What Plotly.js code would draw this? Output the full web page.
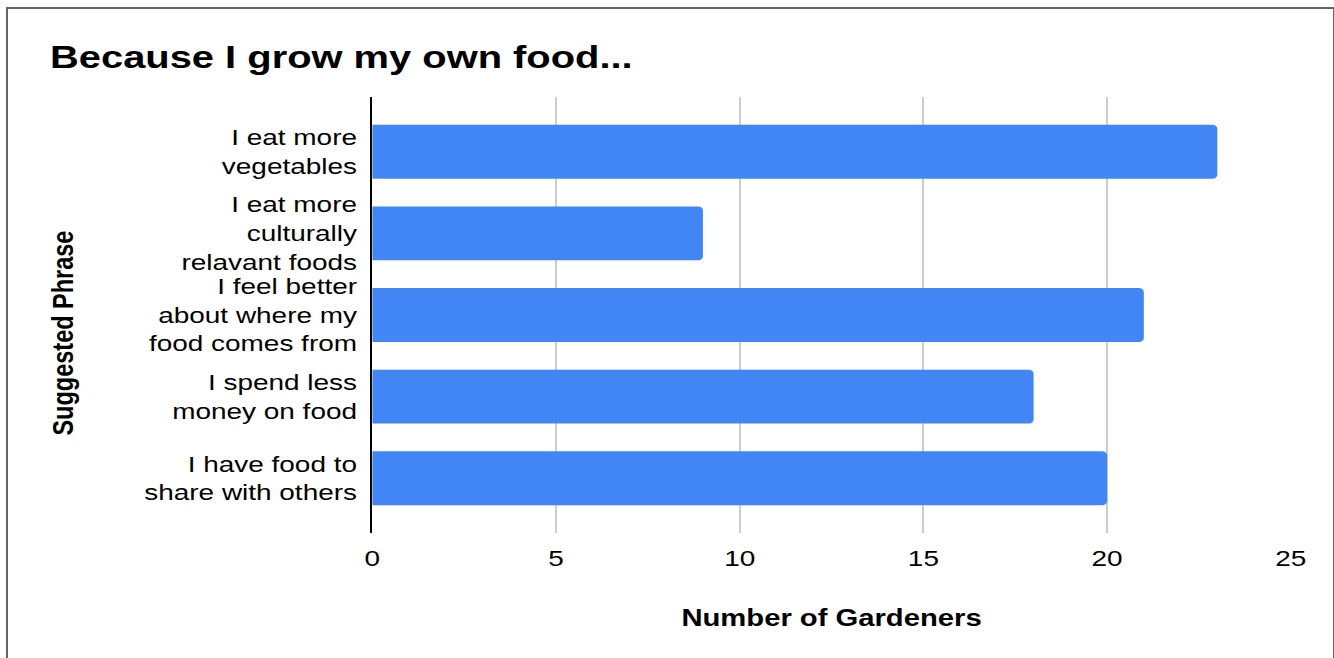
<!DOCTYPE html>
<html>
<head>
<meta charset="utf-8">
<script src="https://cdn.plot.ly/plotly-3.0.1.min.js"></script>
<style>
  html, body { margin: 0; padding: 0; background: #fff; overflow: hidden; }
  /* the reference is a horizontally stretched chart image: reproduce the stretch */
  #chart { width: 1050px; height: 658px; transform: scaleX(1.27048); transform-origin: 0 0; }
  #frame { position: absolute; left: 6px; top: 7px; width: 1325px; height: 660px;
           border: 2px solid #666; border-bottom: none; pointer-events: none; }
</style>
</head>
<body>
<div id="chart"></div>
<div id="frame"></div>
<script>
const categories = [
  "I eat more<br>vegetables",
  "I eat more<br>culturally<br>relavant foods",
  "I feel better<br>about where my<br>food comes from",
  "I spend less<br>money on food",
  "I have food to<br>share with others"
];
const gardeners = [23, 9, 21, 18, 20];
const xTicks = [0, 5, 10, 15, 20, 25];

const FONT = 'Liberation Sans, Arial, sans-serif';

const trace = {
  type: 'bar',
  orientation: 'h',
  x: gardeners,
  y: categories,
  marker: { color: '#4285F4', cornerradius: 4 },
  hoverinfo: 'x+y'
};

const layout = {
  width: 1050,
  height: 658,
  margin: { l: 293, r: 34, t: 97, b: 125 },
  paper_bgcolor: '#ffffff',
  plot_bgcolor: '#ffffff',
  showlegend: false,
  bargap: 0.34,
  font: { family: FONT, color: '#000' },
  title: {
    text: 'Because I grow my own food...',
    font: { family: FONT, size: 31.4, weight: 'bold', color: '#000' },
    x: 39.4 / 1050, xref: 'container', xanchor: 'left',
    y: 1 - 57 / 658, yref: 'container', yanchor: 'middle'
  },
  xaxis: {
    range: [0, 25],
    tickvals: xTicks,
    ticktext: xTicks.map(String),
    showgrid: true,
    gridcolor: '#cccccc',
    gridwidth: 1.6,
    zeroline: false,
    showline: false,
    ticks: '',
    ticklabelstandoff: 10,
    tickfont: { family: FONT, size: 22, color: '#000' },
    title: {
      text: 'Number of Gardeners',
      font: { family: FONT, size: 23, weight: 'bold', color: '#000' },
      standoff: 39
    },
    fixedrange: true
  },
  yaxis: {
    type: 'category',
    range: [4.67, -0.67],
    showgrid: false,
    zeroline: false,
    showline: true,
    linecolor: '#000000',
    linewidth: 1.6,
    ticks: '',
    ticklabelstandoff: 6,
    tickfont: { family: FONT, size: 22, color: '#000' },
    fixedrange: true
  },
  annotations: [{
    text: 'Suggested Phrase',
    xref: 'paper', yref: 'paper',
    x: -0.3367, y: 0.4587,
    xanchor: 'center', yanchor: 'middle',
    textangle: -90,
    showarrow: false,
    font: { family: FONT, size: 23.5, weight: 'bold', color: '#000' }
  }]
};

Plotly.newPlot('chart', [trace], layout, { displayModeBar: false, staticPlot: true });
</script>
</body>
</html>
